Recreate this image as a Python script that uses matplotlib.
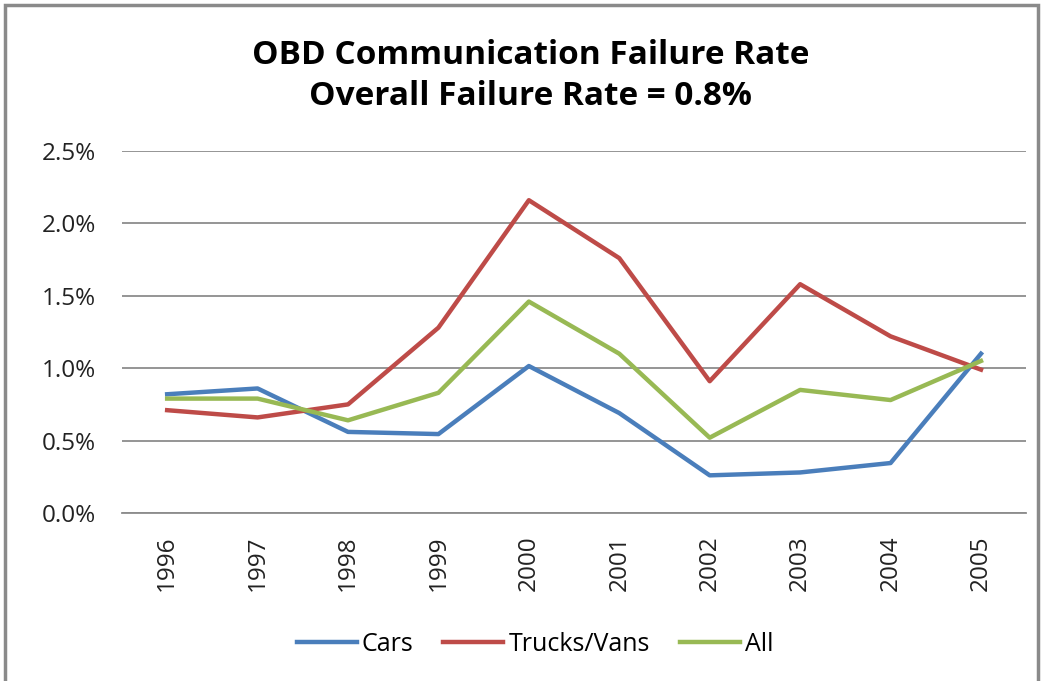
import matplotlib.pyplot as plt
from matplotlib.patches import Rectangle
from matplotlib.ticker import FuncFormatter

years = ['1996', '1997', '1998', '1999', '2000', '2001', '2002', '2003', '2004', '2005']
cars = [0.82, 0.86, 0.56, 0.545, 1.015, 0.69, 0.26, 0.28, 0.345, 1.10]
trucks = [0.71, 0.66, 0.75, 1.28, 2.16, 1.76, 0.91, 1.58, 1.22, 0.99]
all_veh = [0.79, 0.79, 0.64, 0.83, 1.46, 1.10, 0.52, 0.85, 0.78, 1.05]

plt.rcParams['font.family'] = ['Open Sans', 'DejaVu Sans']

fig = plt.figure(figsize=(10.45, 6.81), dpi=100)
ax = fig.add_axes([0.1167, 0.2467, 0.8653, 0.5316])

# frame around the whole chart, like the Excel chart area
fig.patches.append(Rectangle((5 / 1045, -0.01), 1033 / 1045, 1 - 5 / 681 + 0.01,
                             transform=fig.transFigure, fill=False,
                             edgecolor='#8a8a8a', linewidth=2.5))

x = range(len(years))
ax.plot(x, cars, color='#4A7EBB', linewidth=3.2, label='Cars')
ax.plot(x, trucks, color='#BE4B48', linewidth=3.2, label='Trucks/Vans')
ax.plot(x, all_veh, color='#98B954', linewidth=3.2, label='All')

ax.set_xlim(-0.5, 9.5)
ax.set_ylim(0, 2.5)
ax.set_yticks([0, 0.5, 1.0, 1.5, 2.0, 2.5])
ax.yaxis.set_major_formatter(FuncFormatter(lambda v, p: f'{v:.1f}%'))
ax.set_xticks(list(x))
ax.set_xticklabels(years, rotation=90)
ax.tick_params(axis='both', length=0, labelsize=17.5, colors='#222222')
ax.tick_params(axis='y', pad=18.5)
ax.tick_params(axis='x', pad=16)
ax.grid(axis='y', color='#8c8c8c', linewidth=1.3)
ax.set_axisbelow(True)
for s in ['top', 'right', 'left']:
    ax.spines[s].set_visible(False)
ax.spines['bottom'].set_color('#8c8c8c')
ax.spines['bottom'].set_linewidth(1.3)

fig.text(0.508, 0.889, 'OBD Communication Failure Rate\nOverall Failure Rate = 0.8%',
         ha='center', va='center', fontsize=24, fontweight='bold',
         linespacing=1.32, color='black')

fig.legend(loc='center', bbox_to_anchor=(0.512, 0.054), ncol=3, frameon=False,
           fontsize=18, handlelength=2.4, handletextpad=0.2, columnspacing=1.2)

fig.savefig('out.png', dpi=100)
